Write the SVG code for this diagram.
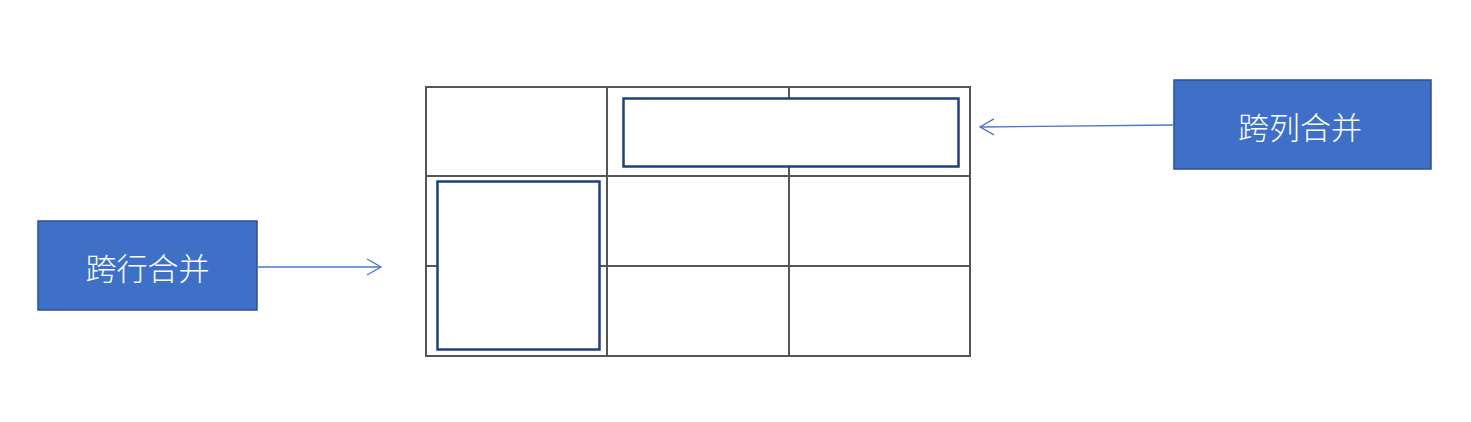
<svg xmlns="http://www.w3.org/2000/svg" width="1471" height="422" viewBox="0 0 1471 422">
<style>
.grid{fill:none;stroke:#555;stroke-width:2}
.merge{fill:#fff;stroke:#1f3f7f;stroke-width:2.5}
.box{fill:#3d70c6;stroke:#2f4f8f;stroke-width:1.5}
.lbl{fill:#fff;font-family:"Noto Sans CJK SC","Liberation Sans",sans-serif;font-size:31px;font-weight:300;text-anchor:middle;dominant-baseline:central}
.conn{fill:none;stroke:#4a78c8;stroke-width:1.3}
</style>
<defs>
<marker id="open" markerWidth="18" markerHeight="18" refX="15" refY="9" orient="auto" markerUnits="userSpaceOnUse">
<path d="M1,1 L15,9 L1,17" fill="none" stroke="#4a78c8" stroke-width="1.3"/>
</marker>
</defs>
<rect width="1471" height="422" fill="#fdfefd"/>
<g id="table">
<rect class="grid" x="426" y="87" width="544" height="269"/>
<line class="grid" x1="607" y1="87" x2="607" y2="356"/>
<line class="grid" x1="789" y1="87" x2="789" y2="356"/>
<line class="grid" x1="426" y1="176" x2="970" y2="176"/>
<line class="grid" x1="426" y1="266" x2="970" y2="266"/>
<rect class="merge" x="623.5" y="98.5" width="335" height="68"/>
<rect class="merge" x="437.5" y="181.5" width="162" height="168"/>
</g>
<g id="row-merge">
<rect class="box" x="38" y="221" width="219" height="89"/>
<text class="lbl" x="147.5" y="266">跨行合并</text>
</g>
<g id="col-merge">
<rect class="box" x="1174" y="80" width="257" height="89"/>
<text class="lbl" x="1300" y="125">跨列合并</text>
</g>
<g id="connectors">
<line class="conn" x1="258" y1="267" x2="381" y2="267" marker-end="url(#open)"/>
<line class="conn" x1="1173" y1="125" x2="980" y2="127" marker-end="url(#open)"/>
</g>
</svg>
